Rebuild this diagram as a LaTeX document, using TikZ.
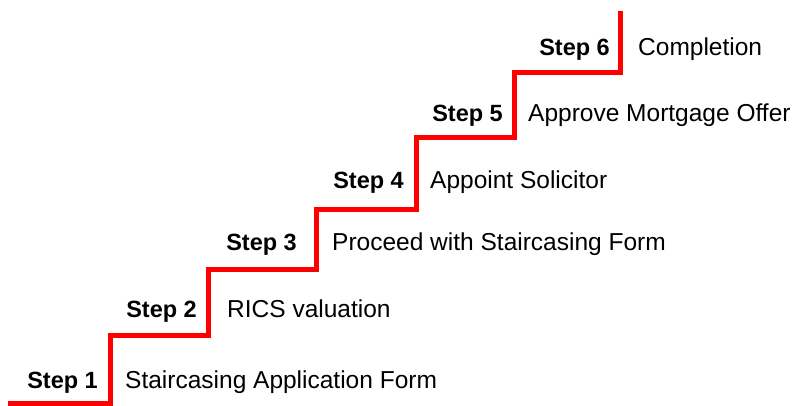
\documentclass[tikz,border=0pt]{standalone}
\usepackage{fontspec}
\setmainfont{Liberation Sans}

\tikzset{
  stair/.style={line width=5pt, red, line join=miter},
  steplabel/.style={anchor=base east, inner sep=0pt, font=\fontsize{23.5}{28}\selectfont\bfseries},
  steptext/.style={anchor=base west, inner sep=0pt, font=\fontsize{24.5}{29}\selectfont}
}

\begin{document}
\begin{tikzpicture}[x=1pt, y=-1pt]

    \useasboundingbox (0,0) rectangle (796,405);

        % Corners of the staircase
        \coordinate (c0) at (8,403);
        \coordinate (c1) at (110,403);
        \coordinate (c2) at (110,335);
        \coordinate (c3) at (208,335);
        \coordinate (c4) at (208,269);
        \coordinate (c5) at (316,269);
        \coordinate (c6) at (316,209);
        \coordinate (c7) at (416,209);
        \coordinate (c8) at (416,137);
        \coordinate (c9) at (514,137);
        \coordinate (c10) at (514,72);
        \coordinate (c11) at (620,72);
        \coordinate (c12) at (620,11);

        % Staircase
        \draw[stair] (c0) -- (c1) -- (c2) -- (c3) -- (c4) -- (c5) -- (c6)
            -- (c7) -- (c8) -- (c9) -- (c10) -- (c11) -- (c12);

        % Step labels
        \node[steplabel] (step1) at (98,388) {Step 1};
        \node[steplabel] (step2) at (197,317) {Step 2};
        \node[steplabel] (step3) at (297,250) {Step 3};
        \node[steplabel] (step4) at (404,188) {Step 4};
        \node[steplabel] (step5) at (503,121) {Step 5};
        \node[steplabel] (step6) at (610,55) {Step 6};

        % Step descriptions
        \node[steptext] (text1) at (125,388) {Staircasing Application Form};
        \node[steptext] (text2) at (227,317) {RICS valuation};
        \node[steptext] (text3) at (332,250) {Proceed with Staircasing Form};
        \node[steptext] (text4) at (430,188) {Appoint Solicitor};
        \node[steptext] (text5) at (528,121) {Approve Mortgage Offer};
        \node[steptext] (text6) at (638,55) {Completion};

\end{tikzpicture}
\end{document}
